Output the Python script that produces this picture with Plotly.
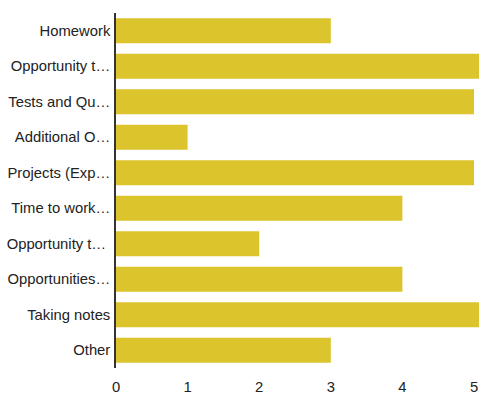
import plotly.graph_objects as go

categories = ["Homework", "Opportunity t…", "Tests and Qu…", "Additional O…", "Projects (Exp…",
              "Time to work…", "Opportunity t… ", "Opportunities…", "Taking notes", "Other"]
values = [3, 6, 5, 1, 5, 4, 2, 4, 6, 3]
x_ticks = [0, 1, 2, 3, 4, 5]

fig = go.Figure(go.Bar(
    x=values, y=categories, orientation="h",
    marker=dict(color="#DCC42D", line=dict(width=0)),
))
fig.update_layout(
    width=479, height=394,
    margin=dict(l=116, r=0, t=13, b=26),
    paper_bgcolor="white", plot_bgcolor="white",
    bargap=0.3, showlegend=False,
    font=dict(family="Liberation Sans, Arial, sans-serif", size=14.8, color="#222222"),
)
fig.update_xaxes(range=[0, 5.07], tickvals=x_ticks, showgrid=False, zeroline=False,
                 showline=False, ticks="", ticklabelstandoff=8, fixedrange=True)
fig.update_yaxes(autorange="reversed", showgrid=False, zeroline=False,
                 showline=True, linecolor="#333333", linewidth=1.5, ticks="",
                 ticklabelstandoff=1, fixedrange=True)
fig.write_html("out.html", config={"displayModeBar": False})
